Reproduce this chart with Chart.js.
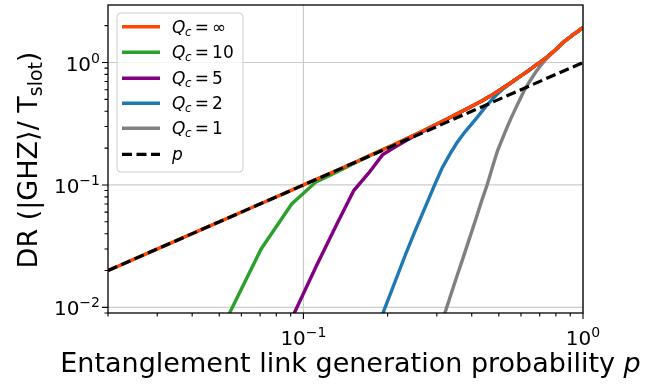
<!DOCTYPE html>
<html>
<head>
<meta charset="utf-8">
<script src="https://cdn.jsdelivr.net/npm/chart.js@4.4.0/dist/chart.umd.min.js"></script>
<style>
  html, body { margin: 0; padding: 0; background: #fff; }
  #wrap { width: 645px; height: 384px; }
</style>
</head>
<body>
<div id="wrap"><canvas id="drChart" width="645" height="384"></canvas></div>
<script>
// link generation probability samples
const pValues = [0.01, 0.0302, 0.0504, 0.0706, 0.0908, 0.1110, 0.1312, 0.1514, 0.1716, 0.1918,
                 0.2120, 0.2322, 0.2524, 0.2727, 0.2929, 0.3131, 0.3333, 0.3535, 0.3737, 0.3939,
                 0.4141, 0.4343, 0.4545, 0.4747, 0.4949, 0.5151, 0.5353, 0.5555, 0.5757, 0.5959,
                 0.6161, 0.6363, 0.6565, 0.6767, 0.6969, 0.7171, 0.7373, 0.7575, 0.7778, 0.7980,
                 0.8182, 0.8384, 0.8586, 0.8788, 0.8990, 0.9192, 0.9394, 0.9596, 0.9798, 1.0];

// distribution rate per time slot, one list per cutoff Q_c
const drInf = [0.01, 0.0302, 0.0504, 0.0706, 0.0908, 0.111, 0.1314, 0.152, 0.173, 0.194,
               0.215, 0.237, 0.259, 0.282, 0.306, 0.330, 0.354, 0.379, 0.405, 0.432,
               0.458, 0.485, 0.515, 0.547, 0.580, 0.618, 0.652, 0.69, 0.73, 0.77,
               0.81, 0.855, 0.90, 0.95, 0.995, 1.04, 1.09, 1.15, 1.21, 1.27,
               1.34, 1.42, 1.49, 1.55, 1.61, 1.68, 1.74, 1.80, 1.87, 1.93];
const dr10 = [null, null, 0.0063, 0.030, 0.070, 0.106, 0.127, 0.150, 0.172, 0.194,
              0.215, 0.237, 0.259, 0.282, 0.306, 0.330, 0.354, 0.379, 0.405, 0.432,
              0.458, 0.485, 0.515, 0.547, 0.580, 0.618, 0.652, 0.69, 0.73, 0.77,
              0.81, 0.855, 0.90, 0.95, 0.995, 1.04, 1.09, 1.15, 1.21, 1.27,
              1.34, 1.42, 1.49, 1.55, 1.61, 1.68, 1.74, 1.80, 1.87, 1.93];
const dr5 = [null, null, null, null, 0.0081, 0.0216, 0.047, 0.090, 0.126, 0.176,
             0.203, 0.230, 0.255, 0.280, 0.306, 0.330, 0.354, 0.379, 0.405, 0.432,
             0.458, 0.485, 0.515, 0.547, 0.580, 0.618, 0.652, 0.69, 0.73, 0.77,
             0.81, 0.855, 0.90, 0.95, 0.995, 1.04, 1.09, 1.15, 1.21, 1.27,
             1.34, 1.42, 1.49, 1.55, 1.61, 1.68, 1.74, 1.80, 1.87, 1.93];
const dr2 = [null, null, null, null, null, null, null, null, null, 0.0088,
             0.0159, 0.0273, 0.0435, 0.066, 0.097, 0.137, 0.177, 0.220, 0.262, 0.302,
             0.347, 0.397, 0.452, 0.505, 0.555, 0.603, 0.645, 0.685, 0.73, 0.77,
             0.81, 0.855, 0.90, 0.95, 0.995, 1.04, 1.09, 1.15, 1.21, 1.27,
             1.34, 1.42, 1.49, 1.55, 1.61, 1.68, 1.74, 1.80, 1.87, 1.93];
const dr1 = [null, null, null, null, null, null, null, null, null, null,
             null, null, null, null, null, 0.0076, 0.0118, 0.0178, 0.026, 0.0375,
             0.053, 0.0745, 0.101, 0.141, 0.191, 0.239, 0.297, 0.36, 0.428, 0.503,
             0.59, 0.669, 0.747, 0.832, 0.911, 0.986, 1.065, 1.13, 1.20, 1.27,
             1.34, 1.42, 1.49, 1.55, 1.61, 1.68, 1.74, 1.80, 1.87, 1.93];

// reference line DR = p
const refX = [0.02, 1.0];
const refY = [0.02, 1.0];

const cutoffLabels = ['∞', '10', '5', '2', '1'];

// axis ticks
const xMajor = [0.1, 1];
const xMajorExp = ['−1', '0'];
const xMinor = [0.02, 0.03, 0.04, 0.05, 0.06, 0.07, 0.08, 0.09, 0.2, 0.3, 0.4, 0.5, 0.6, 0.7, 0.8, 0.9];
const yMajor = [0.01, 0.1, 1];
const yMajorExp = ['−2', '−1', '0'];
const yMinor = [0.009, 0.02, 0.03, 0.04, 0.05, 0.06, 0.07, 0.08, 0.09,
                0.2, 0.3, 0.4, 0.5, 0.6, 0.7, 0.8, 0.9, 2];

const FONT = '"DejaVu Sans", "Noto Sans", sans-serif';
const TICK_PX = 20, SUP_PX = 14, SUP_RAISE = 8;
const LABEL_PX = 27;
const LEG_PX = 17;

const toPoints = (ys, xs) => xs.map((x, i) => ({ x: x, y: ys[i] }));

function series(label, ys, color, extra) {
    return Object.assign({
        label: label,
        data: toPoints(ys, pValues),
        borderColor: color,
        backgroundColor: color,
        borderWidth: 3.4,
        pointRadius: 0,
        tension: 0,
        fill: false,
        spanGaps: false
    }, extra || {});
}

// power-of-ten label: "10" followed by a raised exponent
function drawPow(ctx, exp, x, y, align) {
    ctx.font = TICK_PX + 'px ' + FONT;
    const wBase = ctx.measureText('10').width;
    ctx.font = SUP_PX + 'px ' + FONT;
    const wExp = ctx.measureText(exp).width;
    const total = wBase + wExp;
    const x0 = align === 'center' ? x - total / 2 : (align === 'right' ? x - total : x);
    ctx.textAlign = 'left';
    ctx.textBaseline = 'alphabetic';
    ctx.font = TICK_PX + 'px ' + FONT;
    ctx.fillText('10', x0, y);
    ctx.font = SUP_PX + 'px ' + FONT;
    ctx.fillText(exp, x0 + wBase, y - SUP_RAISE);
}

const gridPlugin = {
    id: 'logGrid',
    beforeDatasetsDraw(chart) {
        const { ctx, chartArea: a, scales: { x, y } } = chart;
        ctx.save();
        ctx.strokeStyle = '#cbcbcb';
        ctx.lineWidth = 1.2;
        ctx.beginPath();
        xMajor.forEach(v => {
            const px = x.getPixelForValue(v);
            ctx.moveTo(px, a.top); ctx.lineTo(px, a.bottom);
        });
        yMajor.forEach(v => {
            const py = y.getPixelForValue(v);
            ctx.moveTo(a.left, py); ctx.lineTo(a.right, py);
        });
        ctx.stroke();
        ctx.restore();
    }
};

const framePlugin = {
    id: 'frameAndText',
    afterDraw(chart) {
        const { ctx, chartArea: a, scales: { x, y } } = chart;
        ctx.save();

        // spines
        ctx.strokeStyle = '#000';
        ctx.lineWidth = 1.3;
        ctx.strokeRect(a.left, a.top, a.right - a.left, a.bottom - a.top);

        // tick marks, pointing outwards
        ctx.lineWidth = 1.1;
        ctx.beginPath();
        xMajor.forEach(v => { const px = x.getPixelForValue(v); ctx.moveTo(px, a.bottom); ctx.lineTo(px, a.bottom + 6); });
        xMinor.forEach(v => { const px = x.getPixelForValue(v); ctx.moveTo(px, a.bottom); ctx.lineTo(px, a.bottom + 3.5); });
        yMajor.forEach(v => { const py = y.getPixelForValue(v); ctx.moveTo(a.left, py); ctx.lineTo(a.left - 6, py); });
        yMinor.forEach(v => { const py = y.getPixelForValue(v); ctx.moveTo(a.left, py); ctx.lineTo(a.left - 3.5, py); });
        ctx.stroke();

        // tick labels
        ctx.fillStyle = '#000';
        xMajor.forEach((v, i) => drawPow(ctx, xMajorExp[i], x.getPixelForValue(v), a.bottom + 32, 'center'));
        yMajor.forEach((v, i) => drawPow(ctx, yMajorExp[i], a.left - 8, y.getPixelForValue(v) + 8, 'right'));

        // x axis title
        ctx.textBaseline = 'alphabetic';
        ctx.font = LABEL_PX + 'px ' + FONT;
        const xt = 'Entanglement link generation probability ';
        const wxt = ctx.measureText(xt).width;
        ctx.font = 'italic ' + LABEL_PX + 'px ' + FONT;
        const wp = ctx.measureText('p').width;
        let tx = (a.left + a.right) / 2 + 5 - (wxt + wp) / 2;
        ctx.font = LABEL_PX + 'px ' + FONT;
        ctx.textAlign = 'left';
        ctx.fillText(xt, tx, 372);
        ctx.font = 'italic ' + LABEL_PX + 'px ' + FONT;
        ctx.fillText('p', tx + wxt, 372);

        // y axis title, rotated
        ctx.save();
        ctx.translate(37, 160);
        ctx.rotate(-Math.PI / 2);
        const yA = 'DR (|GHZ⟩/ T', yB = 'slot', yC = ')';
        ctx.font = LABEL_PX + 'px ' + FONT;
        const wA = ctx.measureText(yA).width, wC = ctx.measureText(yC).width;
        ctx.font = (LABEL_PX * 0.7) + 'px ' + FONT;
        const wB = ctx.measureText(yB).width;
        let sx = -(wA + wB + wC) / 2;
        ctx.font = LABEL_PX + 'px ' + FONT;
        ctx.fillText(yA, sx, 0);
        ctx.font = (LABEL_PX * 0.7) + 'px ' + FONT;
        ctx.fillText(yB, sx + wA, 5);
        ctx.font = LABEL_PX + 'px ' + FONT;
        ctx.fillText(yC, sx + wA + wB, 0);
        ctx.restore();

        // legend
        const bx = 117, by = 13, bw = 126, bh = 159, r = 4;
        ctx.beginPath();
        ctx.moveTo(bx + r, by);
        ctx.arcTo(bx + bw, by, bx + bw, by + bh, r);
        ctx.arcTo(bx + bw, by + bh, bx, by + bh, r);
        ctx.arcTo(bx, by + bh, bx, by, r);
        ctx.arcTo(bx, by, bx + bw, by, r);
        ctx.closePath();
        ctx.fillStyle = 'rgba(255,255,255,0.8)';
        ctx.fill();
        ctx.strokeStyle = '#cccccc';
        ctx.lineWidth = 1;
        ctx.stroke();

        const rows = [26.7, 52.3, 78.3, 103.3, 128.3, 154.3];
        const legendSets = [1, 5, 4, 3, 2, 0].map(i => chart.data.datasets[i]);
        const relSpace = LEG_PX * 0.19;
        legendSets.forEach((ds, i) => {
            const ry = rows[i];
            ctx.strokeStyle = ds.borderColor;
            ctx.lineWidth = ds.borderWidth;
            ctx.setLineDash(ds.borderDash || []);
            ctx.beginPath();
            ctx.moveTo(122, ry); ctx.lineTo(160, ry);
            ctx.stroke();
            ctx.setLineDash([]);

            ctx.fillStyle = '#000';
            ctx.textAlign = 'left';
            let lx = 172;
            const base = ry + 6;
            if (i < cutoffLabels.length) {
                ctx.font = 'italic ' + LEG_PX + 'px ' + FONT;
                ctx.fillText('Q', lx, base);
                lx += ctx.measureText('Q').width - 0.5;
                ctx.font = 'italic ' + (LEG_PX * 0.7) + 'px ' + FONT;
                ctx.fillText('c', lx, base + 3);
                lx += ctx.measureText('c').width + relSpace;
                ctx.font = LEG_PX + 'px ' + FONT;
                ctx.fillText('=', lx, base);
                lx += ctx.measureText('=').width + relSpace;
                ctx.fillText(cutoffLabels[i], lx, base);
            } else {
                ctx.font = 'italic ' + LEG_PX + 'px ' + FONT;
                ctx.fillText('p', lx, base);
            }
        });

        ctx.restore();
    }
};

new Chart(document.getElementById('drChart'), {
    type: 'line',
    data: {
        datasets: [
            { label: 'p', data: toPoints(refY, refX), borderColor: '#000000', backgroundColor: '#000000',
              borderWidth: 3.2, borderDash: [10, 4.5], pointRadius: 0, tension: 0, fill: false },
            series('Q_c = ∞', drInf, '#ff4500'),
            series('Q_c = 1', dr1, '#808080'),
            series('Q_c = 2', dr2, '#1f77b4'),
            series('Q_c = 5', dr5, '#800080'),
            series('Q_c = 10', dr10, '#2ca02c')
        ]
    },
    options: {
        responsive: false,
        animation: false,
        devicePixelRatio: 1,
        events: [],
        layout: { padding: { left: 108, right: 62, top: 5, bottom: 71 } },
        plugins: {
            legend: { display: false },
            tooltip: { enabled: false }
        },
        scales: {
            x: { type: 'logarithmic', min: 0.02, max: 1, display: false },
            y: { type: 'logarithmic', min: 0.009, max: 2.95, display: false }
        }
    },
    plugins: [gridPlugin, framePlugin]
});
</script>
</body>
</html>
